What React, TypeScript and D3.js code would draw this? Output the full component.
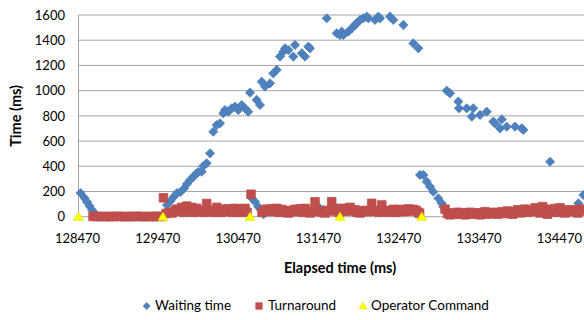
import React from "react";
import * as d3 from "d3";

// Waiting time samples: [elapsed ms, time ms]
const waitingTime: [number, number][] = [
  [128495, 188], [128545, 148], [128576, 117], [128607, 85], [128638, 53], [128675, 26],
  [128725, 0], [128781, 0], [128837, 0], [128893, 0], [128949, 0], [129005, 0], [129061, 0],
  [129117, 0], [129173, 0], [129229, 0], [129285, 0], [129341, 0], [129397, 0], [129453, 0], [129509, 0],
  [129572, 93], [129616, 125], [129659, 160], [129697, 188], [129740, 196], [129784, 224],
  [129821, 260], [129859, 291], [129900, 317], [129933, 339], [129962, 355], [130004, 357],
  [130024, 402], [130066, 424], [130108, 503], [130149, 674], [130191, 727], [130232, 741],
  [130273, 820], [130294, 846], [130335, 833], [130378, 860], [130419, 873], [130460, 846],
  [130502, 886], [130543, 860], [130584, 833], [130606, 984],
  [130108, 58], [130631, 145], [130668, 118], [130709, 79], [130743, 53], [130774, 20],
  [130689, 926], [130730, 886], [130751, 1071], [130792, 1032], [130855, 1058], [130896, 1137],
  [130938, 1164], [130979, 1270], [131020, 1309], [131042, 1336], [131083, 1322], [131145, 1270],
  [131166, 1362], [131250, 1296], [131291, 1270], [131332, 1349], [131353, 1336],
  [131477, 66], [131518, 53], [131664, 79], [131705, 66], [132162, 58], [132262, 47],
  [131561, 1574], [131685, 1455], [131726, 1441], [131748, 1468], [131768, 1441], [131830, 1468],
  [131872, 1494], [131913, 1521], [131934, 1534], [131976, 1561], [132017, 1574], [132059, 1587],
  [132079, 1574], [132162, 1561], [132203, 1587], [132225, 1574], [132349, 1587], [132390, 1561],
  [132515, 1521], [132639, 1375], [132702, 1336],
  [132723, 331], [132764, 331], [132806, 278], [132847, 238], [132888, 198], [132951, 145],
  [132993, 106], [133013, 79],
  [133055, 1000], [133096, 979], [133200, 913], [133208, 860], [133304, 860], [133367, 794],
  [133386, 860], [133470, 807], [133553, 833], [133635, 754], [133657, 741], [133719, 701],
  [133740, 772], [133802, 714], [133906, 714], [133989, 701], [134009, 688], [134342, 436],
  [134694, 106], [134756, 172],
];

// Turnaround samples: [elapsed ms, time ms]
const turnaround: [number, number][] = [
  [128651, 2], [128697, 1], [128752, 3], [128803, 0], [128846, 2], [128899, 1], [128951, 3],
  [128997, 2], [129052, 0], [129101, 2], [129146, 1], [129198, 3], [129251, 2], [129297, 0],
  [129349, 2], [129402, 1], [129446, 3], [129498, 2],
  [129528, 150], [129560, 25], [129597, 35], [129634, 30], [129672, 45], [129693, 60], [129722, 45],
  [129755, 74], [129784, 35], [129817, 84], [129846, 45], [129880, 74], [129908, 35], [129942, 66],
  [129971, 45], [130008, 50], [130033, 35], [130066, 105], [130086, 45], [130120, 50], [130157, 35],
  [130191, 74], [130220, 45], [130245, 35], [130273, 60], [130307, 40], [130335, 62], [130369, 45],
  [130394, 35], [130419, 66], [130456, 35], [130481, 60], [130519, 45], [130543, 66], [130568, 35],
  [130618, 178],
  [130755, 35], [130780, 45], [130814, 60], [130842, 40], [130876, 62], [130905, 45], [130938, 66],
  [130967, 35], [131000, 58], [131029, 45], [131054, 35], [131083, 30], [131116, 50], [131141, 40],
  [131166, 58], [131203, 45], [131228, 62], [131259, 35], [131291, 66], [131322, 45], [131353, 30],
  [131384, 45], [131415, 118], [131446, 40], [131477, 45], [131509, 35], [131540, 30], [131577, 50],
  [131623, 119], [131652, 45], [131685, 58], [131714, 35], [131748, 66], [131776, 45], [131801, 62],
  [131826, 45], [131851, 74], [131888, 50], [131913, 55], [131938, 35], [131976, 30], [132007, 45],
  [132038, 50], [132075, 40], [132121, 106], [132150, 45], [132183, 45], [132212, 35], [132246, 93],
  [132274, 45], [132308, 45], [132337, 35], [132362, 50], [132393, 58], [132424, 35], [132455, 50],
  [132486, 58], [132517, 40], [132548, 45], [132579, 62], [132611, 45], [132642, 58], [132673, 50],
  [132704, 35], [132718, 25],
  [133034, 60], [133065, 25], [133096, 15], [133127, 30], [133159, 20], [133190, 35], [133221, 20],
  [133252, 30], [133283, 15], [133314, 25], [133345, 35], [133376, 20], [133408, 30], [133439, 25],
  [133470, 15], [133501, 30], [133532, 40], [133563, 20], [133594, 30], [133626, 25], [133657, 35],
  [133688, 20], [133719, 30], [133750, 40], [133781, 25], [133812, 45], [133844, 30], [133875, 20],
  [133906, 40], [133937, 55], [133968, 30], [133999, 45], [134030, 60], [134061, 35], [134093, 40],
  [134124, 50], [134155, 70], [134186, 45], [134217, 30], [134248, 80], [134279, 60], [134310, 20],
  [134342, 40], [134373, 55], [134404, 65], [134435, 35], [134466, 70], [134497, 50], [134528, 30],
  [134560, 45], [134591, 55], [134622, 40], [134653, 50], [134684, 30], [134715, 60], [134753, 45],
];

// Operator commands: [elapsed ms, time ms]
const operatorCommand: [number, number][] = [
  [128470, 0], [129522, 0], [130606, 0], [131727, 0], [132744, 0],
];

const xTicks = [128470, 129470, 130470, 131470, 132470, 133470, 134470];
const yTicks = [0, 200, 400, 600, 800, 1000, 1200, 1400, 1600];

const seriesNames = ["Waiting time", "Turnaround", "Operator Command"];

const W = 584;
const H = 320;
const plot = { left: 78.5, top: 15, right: 600.5, bottom: 216.7 };

const BLUE = "#4F81BD";
const BLUE_EDGE = "#4A7EBB";
const RED = "#C0504D";
const RED_EDGE = "#BE4B48";
const YELLOW = "#FFFF00";
const YELLOW_EDGE = "#E6E600";
const GRID = "#A6A6A6";
const FONT = "Lato, 'Liberation Sans', sans-serif";

const diamond = (cx: number, cy: number, r: number) =>
  `M${cx},${cy - r}L${cx + r},${cy}L${cx},${cy + r}L${cx - r},${cy}Z`;
const square = (cx: number, cy: number, r: number) =>
  `M${cx - r},${cy - r}h${2 * r}v${2 * r}h${-2 * r}Z`;
const triangle = (cx: number, cy: number, r: number) =>
  `M${cx},${cy - r}L${cx + r * 1.1},${cy + r * 0.8}L${cx - r * 1.1},${cy + r * 0.8}Z`;

export default function App() {
  const x = d3.scaleLinear().domain([128470, 134970]).range([plot.left, plot.right]);
  const y = d3.scaleLinear().domain([0, 1600]).range([plot.bottom, plot.top]);

  const legendY = 310;
  const legend = [
    { mx: 146.7, tx: 155, shape: "d" },
    { mx: 259, tx: 268, shape: "s" },
    { mx: 363, tx: 371, shape: "t" },
  ];

  return (
    <svg
      width={W}
      height={H}
      viewBox={`0 0 ${W} ${H}`}
      style={{ position: "absolute", left: 0, top: 0, background: "#fff", display: "block" }}
      fontFamily={FONT}
    >
      <rect x={0} y={0} width={W} height={H} fill="#fff" />
      {/* horizontal gridlines */}
      {yTicks.map((t) => (
        <line
          key={`g${t}`}
          x1={plot.left}
          x2={W}
          y1={y(t)}
          y2={y(t)}
          stroke={GRID}
          strokeWidth={1}
        />
      ))}
      {/* value axis line */}
      <line x1={plot.left} x2={plot.left} y1={plot.top} y2={plot.bottom} stroke={GRID} strokeWidth={1} />

      {/* y tick labels */}
      {yTicks.map((t) => (
        <text
          key={`yl${t}`}
          x={65}
          y={y(t)}
          dy="0.36em"
          textAnchor="end"
          fontSize={13}
          fill="#000"
        >
          {t}
        </text>
      ))}
      {/* x tick labels */}
      {xTicks.map((t) => (
        <text key={`xl${t}`} x={x(t) - 1} y={243} textAnchor="middle" fontSize={13} fill="#000">
          {t}
        </text>
      ))}

      {/* axis titles */}
      <text
        transform={`translate(21,${(plot.top + plot.bottom) / 2}) rotate(-90)`}
        textAnchor="middle"
        fontSize={14.5}
        fontWeight="bold"
        fill="#000"
      >
        Time (ms)
      </text>
      <text x={340} y={273} textAnchor="middle" fontSize={14.5} fontWeight="bold" fill="#000">
        Elapsed time (ms)
      </text>

      {/* series */}
      <g>
        {waitingTime.map((d, i) => (
          <path key={`w${i}`} d={diamond(x(d[0]), y(d[1]), 4.6)} fill={BLUE} stroke={BLUE_EDGE} strokeWidth={0.75} />
        ))}
      </g>
      <g>
        {turnaround.map((d, i) => (
          <path key={`t${i}`} d={square(x(d[0]), y(d[1]), 4.3)} fill={RED} stroke={RED_EDGE} strokeWidth={0.75} />
        ))}
      </g>
      <g>
        {operatorCommand.map((d, i) => (
          <path key={`o${i}`} d={triangle(x(d[0]), y(d[1]), 4.5)} fill={YELLOW} stroke={YELLOW_EDGE} strokeWidth={0.75} />
        ))}
      </g>

      {/* legend */}
      {legend.map((l, i) => (
        <g key={`lg${i}`}>
          {l.shape === "d" && <path d={diamond(l.mx, legendY - 4, 3.5)} fill={BLUE} stroke={BLUE_EDGE} strokeWidth={0.75} />}
          {l.shape === "s" && <path d={square(l.mx, legendY - 4, 3.2)} fill={RED} stroke={RED_EDGE} strokeWidth={0.75} />}
          {l.shape === "t" && <path d={triangle(l.mx, legendY - 4, 3.6)} fill={YELLOW} stroke={YELLOW_EDGE} strokeWidth={0.75} />}
          <text x={l.tx} y={legendY} fontSize={13.5} fill="#000">
            {seriesNames[i]}
          </text>
        </g>
      ))}
    </svg>
  );
}
